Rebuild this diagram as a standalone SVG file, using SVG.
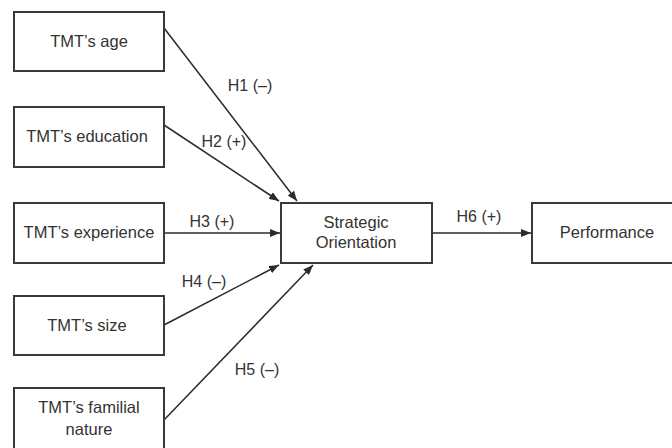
<svg xmlns="http://www.w3.org/2000/svg" width="672" height="448" viewBox="0 0 672 448">
  <defs>
    <marker id="arrow" viewBox="0 0 10 8" refX="10" refY="4" markerWidth="10" markerHeight="8" markerUnits="userSpaceOnUse" orient="auto">
      <path d="M0,0 L10,4 L0,8 Z" fill="#2b2b2b"/>
    </marker>
  </defs>
  <style>
    .box { fill: #ffffff; stroke: #3a3a3a; stroke-width: 2; }
    .label { font-family: "Liberation Sans", Arial, sans-serif; font-size: 16.5px; fill: #333333; text-anchor: middle; }
    .hyp { font-family: "Liberation Sans", Arial, sans-serif; font-size: 16px; fill: #333333; text-anchor: middle; }
    .edge { stroke: #2b2b2b; stroke-width: 1.5; fill: none; marker-end: url(#arrow); }
  </style>
  <rect width="672" height="448" fill="#ffffff"/>

  <g id="connectors">
    <line class="edge" x1="164" y1="28" x2="297" y2="201"/>
    <line class="edge" x1="164" y1="125" x2="279" y2="201"/>
    <line class="edge" x1="164" y1="233" x2="280" y2="233"/>
    <line class="edge" x1="164" y1="325" x2="279" y2="265"/>
    <line class="edge" x1="164" y1="420" x2="313" y2="265"/>
    <line class="edge" x1="432" y1="233" x2="531" y2="233"/>
    <text class="hyp" x="250" y="91">H1 (–)</text>
    <text class="hyp" x="224" y="147">H2 (+)</text>
    <text class="hyp" x="212" y="227">H3 (+)</text>
    <text class="hyp" x="204" y="287">H4 (–)</text>
    <text class="hyp" x="257" y="375">H5 (–)</text>
    <text class="hyp" x="479" y="222">H6 (+)</text>
  </g>

  <g id="age">
    <rect class="box" x="14" y="12" width="150" height="59"/>
    <text class="label" x="89" y="47">TMT’s age</text>
  </g>
  <g id="education">
    <rect class="box" x="14" y="107" width="150" height="60"/>
    <text class="label" x="87" y="142">TMT’s education</text>
  </g>
  <g id="experience">
    <rect class="box" x="14" y="203" width="150" height="60"/>
    <text class="label" x="89" y="238">TMT’s experience</text>
  </g>
  <g id="size">
    <rect class="box" x="14" y="296" width="150" height="59"/>
    <text class="label" x="87" y="331">TMT’s size</text>
  </g>
  <g id="familial">
    <rect class="box" x="14" y="388" width="150" height="70"/>
    <text class="label" x="89" y="413">TMT’s familial</text>
    <text class="label" x="89" y="435">nature</text>
  </g>
  <g id="strategic-orientation">
    <rect class="box" x="281" y="203" width="151" height="60"/>
    <text class="label" x="356" y="228">Strategic</text>
    <text class="label" x="356" y="248">Orientation</text>
  </g>
  <g id="performance">
    <rect class="box" x="532" y="203" width="145" height="60"/>
    <text class="label" x="607" y="238">Performance</text>
  </g>
</svg>
